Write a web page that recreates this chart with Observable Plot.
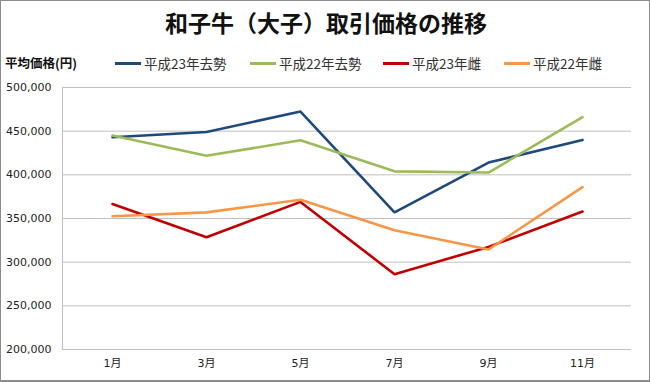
<!DOCTYPE html>
<html>
<head>
<meta charset="utf-8">
<script src="https://cdn.jsdelivr.net/npm/d3@7"></script>
<script src="https://cdn.jsdelivr.net/npm/@observablehq/plot@0.6"></script>
<style>
  html, body { margin: 0; padding: 0; background: #fff; }
  #frame { position: relative; width: 650px; height: 382px; box-sizing: border-box; border: 1px solid #8c8c8c; border-bottom-width: 2px; overflow: hidden; background: #fff; }
  #title { position: absolute; left: 0; top: 5px; width: 650px; text-align: center; font-family: "Noto Sans CJK JP", sans-serif; font-weight: 700; font-size: 23px; line-height: 32px; color: #111; }
  #ylab { position: absolute; left: 4px; top: 52px; font-family: "Noto Sans CJK JP", sans-serif; font-weight: 700; font-size: 12.5px; line-height: 20px; color: #111; }
  .leg { position: absolute; top: 52px; height: 20px; display: flex; align-items: center; font-family: "Noto Sans CJK JP", sans-serif; font-size: 13.5px; color: #333; }
  .leg .sw { width: 26px; height: 3px; margin-right: 3px; }
  #chart { position: absolute; left: 0; top: 75px; }
</style>
</head>
<body>
<div id="frame">
  <div id="title">和子牛（大子）取引価格の推移</div>
  <div id="ylab">平均価格(円)</div>
  <div id="legend"></div>
  <div id="chart"></div>
</div>
<script>
const months = ["1月", "3月", "5月", "7月", "9月", "11月"];
const seriesNames = ["平成23年去勢", "平成22年去勢", "平成23年雌", "平成22年雌"];
const colors = ["#1F497D", "#9BBB59", "#C00000", "#F79646"];
const steer23 = [443000, 449000, 472500, 357000, 414000, 440000];
const steer22 = [445000, 421800, 439500, 404000, 402600, 466000];
const heifer23 = [366500, 328600, 369000, 286200, 317500, 358000];
const heifer22 = [352500, 357000, 371500, 336500, 314500, 386000];
const yTicks = [200000, 250000, 300000, 350000, 400000, 450000, 500000];
const legendX = [114, 249, 382, 503];

const allSeries = [steer23, steer22, heifer23, heifer22];
const rows = [];
allSeries.forEach((vals, i) => vals.forEach((v, j) => rows.push({series: seriesNames[i], month: months[j], value: v})));

const leg = document.getElementById("legend");
seriesNames.forEach((name, i) => {
  const d = document.createElement("div");
  d.className = "leg";
  d.style.left = legendX[i] + "px";
  d.innerHTML = `<span class="sw" style="background:${colors[i]}"></span><span>${name}</span>`;
  leg.appendChild(d);
});

const chart = Plot.plot({
  width: 648,
  height: 305,
  marginLeft: 61,
  marginRight: 18,
  marginTop: 11,
  marginBottom: 32,
  style: { fontFamily: "'DejaVu Sans', 'Noto Sans CJK JP', sans-serif", fontSize: "11px", color: "#222", background: "transparent" },
  x: { type: "point", domain: months, padding: 0.5, label: null, tickSize: 0, tickPadding: 10 },
  y: { domain: [200000, 500000], ticks: yTicks, tickFormat: d3.format(","), label: null, tickSize: 0, tickPadding: 11 },
  color: { domain: seriesNames, range: colors },
  marks: [
    Plot.ruleY(yTicks, { stroke: "#BFBFBF", strokeWidth: 1 }),
    Plot.frame({ anchor: "left", stroke: "#BFBFBF" }),
    Plot.line(rows, { x: "month", y: "value", z: "series", stroke: "series", strokeWidth: 2.6, strokeLinejoin: "miter" })
  ]
});
document.getElementById("chart").appendChild(chart);
</script>
</body>
</html>
